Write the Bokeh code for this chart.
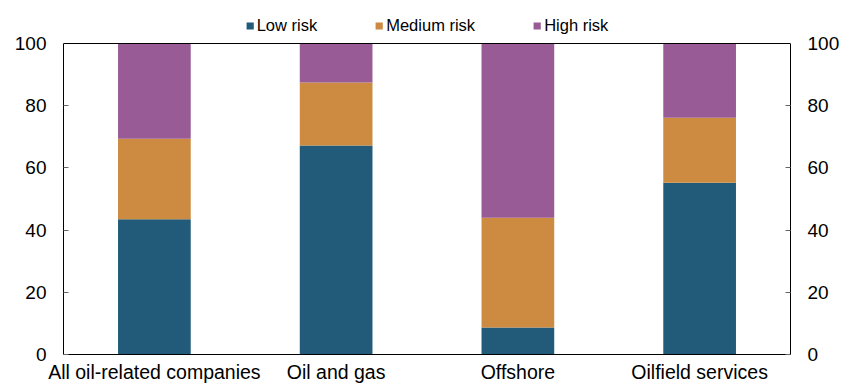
from bokeh.plotting import figure
from bokeh.models import (Range1d, FactorRange, LinearAxis, FixedTicker, Legend,
                          LegendItem, ColumnDataSource, Span)
from bokeh.embed import file_html
from bokeh.resources import INLINE

# Share of companies (%) by risk group
categories = ["All oil-related companies", "Oil and gas", "Offshore", "Oilfield services"]
low_risk = [43.5, 67.2, 8.7, 55.2]
medium_risk = [25.9, 20.3, 35.3, 20.9]
high_risk = [30.6, 12.5, 56.0, 23.9]
series = ["Low risk", "Medium risk", "High risk"]
colors = ["#225B79", "#CC8B41", "#985B96"]
y_ticks = [0, 20, 40, 60, 80, 100]

source = ColumnDataSource(dict(cat=categories, low=low_risk, med=medium_risk, high=high_risk))

FONT = "Liberation Sans"

# the frame runs to the top edge so the legend can sit above the 0-100 box
PLOT_H, BOTTOM = 385, 31
BOX_TOP = 43
frame_h = PLOT_H - BOTTOM
y_max = 100 * frame_h / (frame_h - BOX_TOP)

p = figure(
    width=842, height=PLOT_H, title=None,
    x_range=FactorRange(*categories),
    y_range=Range1d(0, y_max),
    output_backend="svg", toolbar_location=None,
    min_border_left=63, min_border_right=52, min_border_top=0, min_border_bottom=BOTTOM,
)

renderers = p.vbar_stack(["low", "med", "high"], x="cat", width=0.4, source=source,
                         color=colors, line_color=None)

p.xgrid.visible = False
p.ygrid.visible = False
p.outline_line_color = None
p.background_fill_color = "white"
p.border_fill_color = "white"

# top edge of the value box
p.add_layout(Span(location=100, dimension="width", line_color="black", line_width=1))


def style_value_axis(ax):
    ax.ticker = FixedTicker(ticks=y_ticks)
    ax.bounds = (0, 100)
    ax.major_tick_in = 5
    ax.major_tick_out = 0
    ax.minor_tick_line_color = None
    ax.major_tick_line_color = "#666666"
    ax.axis_line_color = "black"
    ax.major_label_standoff = 17
    ax.major_label_text_font = FONT
    ax.major_label_text_font_size = "19px"
    ax.major_label_text_color = "black"


style_value_axis(p.yaxis[0])
rax = LinearAxis()
style_value_axis(rax)
p.add_layout(rax, "right")

# category axis
xax = p.xaxis[0]
xax.major_tick_line_color = None
xax.major_tick_in = 0
xax.major_tick_out = 0
xax.minor_tick_line_color = None
xax.axis_line_color = "black"
xax.major_label_standoff = 6
xax.major_label_text_font = FONT
xax.major_label_text_font_size = "19.5px"
xax.major_label_text_color = "black"

legend = Legend(
    items=[LegendItem(label=s, renderers=[r]) for s, r in zip(series, renderers)],
    orientation="horizontal",
    location="top_center",
    glyph_width=9, glyph_height=9,
    label_standoff=3, spacing=57, padding=0, margin=16,
    label_text_font=FONT, label_text_font_size="16.5px", label_text_color="black",
    border_line_color=None, background_fill_alpha=0,
)
p.add_layout(legend, "center")

open("out.html", "w").write(file_html(p, INLINE))
